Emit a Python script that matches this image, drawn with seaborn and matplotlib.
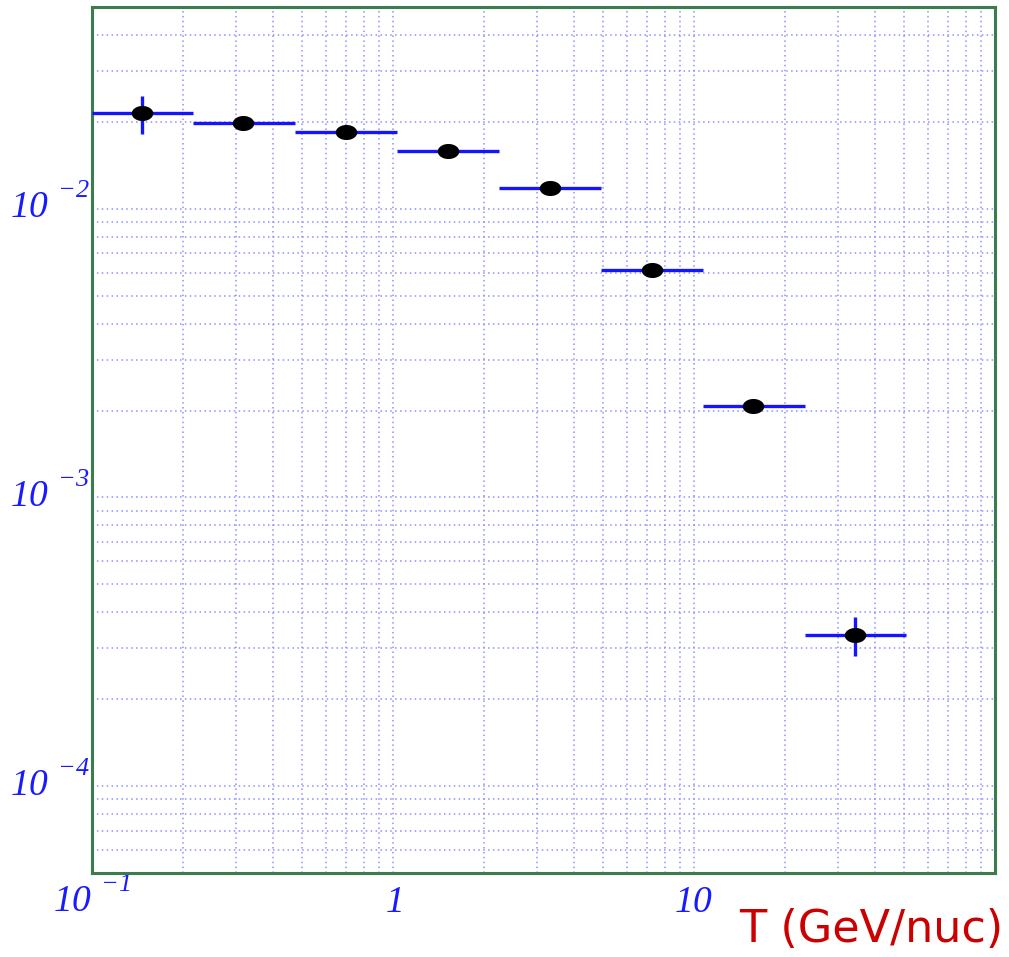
import numpy as np
import pandas as pd
import matplotlib
matplotlib.use("Agg")
import matplotlib.pyplot as plt
import seaborn as sns
from matplotlib.path import Path
from matplotlib.ticker import LogLocator, FuncFormatter, NullFormatter
from matplotlib.transforms import ScaledTranslation

# Kinetic energy bins (GeV/nucleon) and measured flux ratio
T_center = [0.147, 0.318, 0.699, 1.52, 3.33, 7.26, 15.7, 34.2]
T_low = [0.100, 0.216, 0.471, 1.03, 2.25, 4.90, 10.7, 23.4]
T_high = [0.216, 0.471, 1.03, 2.25, 4.90, 10.7, 23.4, 50.8]
flux = [0.0214, 0.0198, 0.0184, 0.0159, 0.0118, 0.00615, 0.00207, 0.000335]
flux_up = [0.0246, 0.0204, 0.0190, 0.0164, 0.0122, 0.00634, 0.00214, 0.000384]
flux_down = [0.0182, 0.0192, 0.0178, 0.0154, 0.0115, 0.00597, 0.00200, 0.000282]

x_label = "T (GeV/nuc)"

sns.set_theme(style="white")
# all math text in an italic serif face
plt.rcParams["mathtext.fontset"] = "custom"
plt.rcParams["mathtext.rm"] = "Liberation Serif:italic"
plt.rcParams["mathtext.it"] = "Liberation Serif:italic"
plt.rcParams["axes.unicode_minus"] = False

# raise exponents higher above the base digits
try:
    import matplotlib._mathtext as _mt
    _mt.FontConstantsBase.sup1 = 1.1
except Exception:
    pass

df = pd.DataFrame({"T": T_center, "lo": T_low, "hi": T_high,
                   "flux": flux, "up": flux_up, "down": flux_down})

fig = plt.figure(figsize=(10.09, 9.57), dpi=100)
ax = fig.add_axes([0.0912, 0.0878, 0.8949, 0.9049])
ax.set_xscale("log")
ax.set_yscale("log")

# bin widths and statistical errors
ax.errorbar(df["T"], df["flux"],
            xerr=[df["T"] - df["lo"], df["hi"] - df["T"]],
            yerr=[df["flux"] - df["down"], df["up"] - df["flux"]],
            fmt="none", ecolor="#1414ff", elinewidth=2.4, capsize=0, zorder=3)

# flattened ellipse marker
theta = np.linspace(0, 2 * np.pi, 60)
ellipse = Path(np.column_stack([np.cos(theta), 0.7 * np.sin(theta)]), closed=True)
sns.scatterplot(data=df, x="T", y="flux", marker=ellipse, s=240, color="black",
                edgecolor="black", linewidth=0, ax=ax, zorder=4, legend=False)

ax.set_xlim(0.1, 100)
ax.set_ylim(5e-5, 0.05)


def decade_label(v, pos):
    e = int(round(np.log10(v)))
    if e == 0:
        return r"$\mathrm{1}$"
    if e == 1:
        return r"$\mathrm{10}$"
    if e >= 2:
        return ""
    return r"$\mathrm{10}^{\ \,\mathrm{-%d}}$" % (-e)


for axis in (ax.xaxis, ax.yaxis):
    axis.set_major_locator(LogLocator(base=10, numticks=20))
    axis.set_minor_locator(LogLocator(base=10, subs=np.arange(2, 10), numticks=20))
    axis.set_major_formatter(FuncFormatter(decade_label))
    axis.set_minor_formatter(NullFormatter())

ax.tick_params(which="major", direction="in", length=11, width=1.3,
               color="#2020ff", labelcolor="#1a1aff", labelsize=27)
ax.tick_params(which="minor", direction="in", length=6, width=1.1, color="#2020ff")
ax.tick_params(axis="x", which="major", pad=28)
ax.tick_params(axis="y", which="major", pad=2)

ax.grid(True, which="both", color="#8f8fff", linestyle=(0, (1, 2.2)), linewidth=1.1)
ax.set_axisbelow(True)

for s in ax.spines.values():
    s.set_visible(True)
    s.set_color("#3b7d4f")
    s.set_linewidth(2.2)

ax.set_xlabel(x_label, color="#cc0000", fontsize=32, family="DejaVu Sans",
              ha="right", va="top")
ax.xaxis.set_label_coords(1.009, -0.040)
ax.set_ylabel("")

# x labels share a common baseline; y labels keep the mantissa on the tick
fig.canvas.draw()
for t in ax.xaxis.get_major_ticks():
    t.label1.set_verticalalignment("baseline")
for t in ax.yaxis.get_major_ticks():
    t.label1.set_transform(t.label1.get_transform()
                           + ScaledTranslation(0, 0.07, fig.dpi_scale_trans))

fig.savefig("out.png", dpi=100)
